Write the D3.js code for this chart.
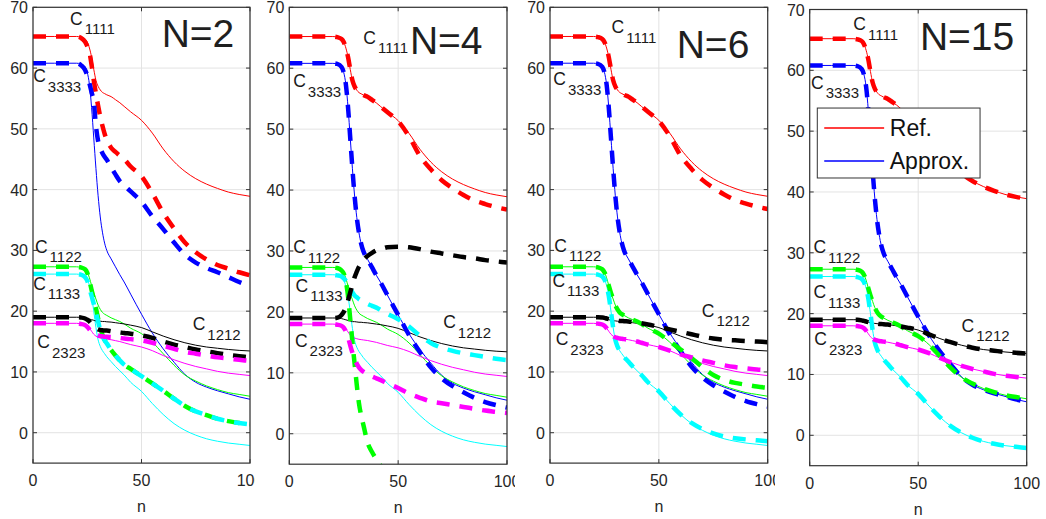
<!DOCTYPE html>
<html><head><meta charset="utf-8">
<script src="https://cdn.jsdelivr.net/npm/d3@7"></script>
<style>
body{margin:0;background:#fff}
svg{display:block}
text{font-family:"Liberation Sans",Arial,sans-serif}
</style>
</head><body>
<svg id="chart" width="1046" height="519"></svg>
<script>
// ---------------- DATA ----------------
const nVals = [0,10,20,22,24,25,26,27,28,29,30,31,32,33,34,36,38,40,42,45,50,55,60,65,70,75,80,85,90,95,100];
const yTicks = [0,10,20,30,40,50,60,70];
const xTicks = [0,50,100];
const panelTitles = ["N=2","N=4","N=6","N=15"];
const components = ["1111","3333","1122","1133","1212","2323"];
const legendLabels = ["Ref.","Approx."];

// Reference (thin solid) curves, identical in every panel
const ref1111 = [65.2,65.2,65.2,65.1,64.8,64.3,63.3,61.8,59.8,58.0,57.0,56.4,56.0,55.8,55.6,55.3,54.8,54.3,53.7,52.8,51.4,49.3,46.7,44.6,43.0,41.8,40.9,40.2,39.6,39.2,38.9];
const ref3333 = [60.8,60.8,60.8,60.7,60.2,59.3,57.3,53.5,48.5,43.5,39.0,35.5,33.0,31.2,30.0,28.6,27.3,26.0,24.8,22.8,19.5,16.4,13.8,11.6,9.6,8.3,7.5,6.9,6.4,5.9,5.5];
const ref1122 = [27.3,27.3,27.3,27.2,26.9,26.4,25.5,24.2,23.0,22.0,21.0,20.3,19.8,19.5,19.3,18.9,18.6,18.3,17.9,17.2,16.3,14.9,13.0,11.1,9.5,8.5,7.7,7.1,6.6,6.3,6.0];
const ref1133 = [26.1,26.1,26.1,26.0,25.7,25.2,24.2,22.5,20.0,17.3,15.3,14.2,13.5,13.0,12.5,11.7,10.9,10.2,9.5,8.3,6.8,4.8,3.0,1.5,0.4,-0.4,-1.0,-1.4,-1.7,-1.9,-2.1];
const ref1212 = [19.0,19.0,19.0,19.0,18.9,18.8,18.7,18.6,18.5,18.4,18.4,18.35,18.3,18.3,18.25,18.2,18.1,18.0,17.9,17.7,17.3,16.6,15.9,15.3,14.8,14.4,14.1,13.9,13.7,13.55,13.45];
const ref2323 = [18.0,18.0,18.0,17.95,17.8,17.6,17.2,16.7,16.2,15.9,15.7,15.6,15.5,15.45,15.4,15.3,15.15,15.0,14.8,14.5,14.1,13.5,12.7,12.0,11.4,10.9,10.5,10.1,9.8,9.6,9.4];

// Approximations (thick dashed), N = 2
const n2_1111 = [65.2,65.2,65.2,65.0,64.3,63.6,62.6,60.5,58.0,55.8,53.8,52.0,50.5,49.2,48.2,46.9,46.2,45.6,45.0,43.8,42.2,39.4,36.2,33.6,31.3,29.7,28.5,27.6,27.0,26.4,25.9];
const n2_3333 = [60.8,60.8,60.8,60.5,59.7,58.8,57.5,56.0,54.5,50.5,48.0,46.8,46.0,45.4,44.9,43.7,42.5,41.4,40.7,39.7,38.0,35.6,33.5,31.3,29.3,28.0,27.1,26.4,25.6,24.8,24.1];
const n2_1122 = [27.3,27.3,27.3,27.2,26.9,26.3,25.0,23.5,22.0,20.5,18.8,17.3,16.1,15.3,14.7,13.6,12.7,11.9,11.2,10.5,9.3,8.1,6.9,5.6,4.4,3.5,2.9,2.3,1.9,1.6,1.4];
const n2_1133 = [26.1,26.1,26.1,26.0,25.6,25.0,23.8,22.5,21.2,19.8,18.3,16.9,15.9,15.2,14.7,13.6,12.7,11.9,11.2,10.5,9.3,8.1,6.9,5.6,4.4,3.5,2.9,2.3,1.9,1.6,1.4];
const n2_1212 = [19.0,19.0,19.0,18.95,18.8,18.6,18.3,17.9,17.5,17.2,17.0,16.9,16.85,16.8,16.8,16.7,16.6,16.5,16.4,16.3,16.0,15.6,15.0,14.5,14.1,13.7,13.4,13.1,12.8,12.6,12.4];
const n2_2323 = [18.0,18.0,18.0,17.9,17.7,17.4,17.0,16.6,16.3,16.1,16.0,15.9,15.85,15.8,15.8,15.75,15.7,15.6,15.5,15.4,15.2,14.8,14.3,13.8,13.3,13.0,12.7,12.4,12.2,12.0,11.8];

// N = 4
const n4_1111 = [65.2,65.2,65.2,65.1,64.8,64.3,63.3,61.8,59.8,58.0,57.0,56.4,56.0,55.8,55.6,55.3,54.8,54.3,53.7,52.8,51.3,48.8,45.6,43.4,41.6,40.3,39.2,38.3,37.7,37.2,36.8];
const n4_3333 = [60.8,60.8,60.8,60.7,60.2,59.3,57.3,53.5,48.5,43.5,39.0,35.5,33.0,31.2,30.0,28.6,27.3,26.0,24.8,22.8,19.5,16.2,13.4,10.9,9.1,7.8,6.8,5.9,5.2,4.7,4.3];
const n4_1122 = [27.3,27.3,27.3,27.2,26.8,26.3,25.0,22.5,18.8,15.0,11.5,8.0,5.0,3.0,1.5,-1.5,-3.0,-4.2,-5.3,null,null,null,null,null,null,null,null,null,null,null,null];
const n4_1133 = [26.1,26.1,26.1,26.0,25.8,25.5,25.1,24.7,24.0,23.2,22.7,22.4,22.1,21.9,21.7,21.3,21.0,20.7,20.3,19.7,18.8,17.6,16.1,14.9,14.1,13.6,13.2,12.9,12.6,12.3,12.1];
const n4_1212 = [19.0,19.0,19.0,19.05,19.5,20.0,20.8,21.9,23.2,24.5,25.7,26.6,27.4,28.0,28.5,29.2,29.7,30.1,30.3,30.6,30.7,30.6,30.3,29.9,29.6,29.3,29.0,28.8,28.5,28.3,28.1];
const n4_2323 = [18.0,18.0,18.0,17.9,17.7,17.4,16.8,15.8,14.5,13.3,12.3,11.5,10.9,10.5,10.2,9.8,9.4,9.1,8.8,8.3,7.5,6.6,5.9,5.3,5.0,4.7,4.4,4.1,3.8,3.6,3.4];

// N = 6
const n6_1111 = [65.2,65.2,65.2,65.1,64.8,64.3,63.3,61.8,59.8,58.0,57.0,56.4,56.0,55.8,55.6,55.3,54.8,54.3,53.7,52.8,51.3,48.8,45.6,43.4,41.6,40.3,39.2,38.3,37.7,37.2,36.8];
const n6_3333 = [60.8,60.8,60.8,60.7,60.2,59.3,57.3,53.5,48.5,43.5,39.0,35.5,33.0,31.2,30.0,28.6,27.3,26.0,24.8,22.8,19.5,16.2,13.4,10.9,9.1,7.8,6.8,5.9,5.2,4.7,4.3];
const n6_1122 = [27.3,27.3,27.3,27.2,26.9,26.4,25.5,24.2,23.0,22.0,21.0,20.3,19.8,19.5,19.3,18.9,18.6,18.3,17.9,17.2,16.3,15.0,13.7,12.3,10.8,9.5,8.7,8.2,7.9,7.6,7.4];
const n6_1133 = [26.1,26.1,26.1,26.0,25.7,25.2,24.2,22.5,20.0,17.3,15.3,14.2,13.5,13.0,12.5,11.7,10.9,10.2,9.5,8.3,6.8,4.8,3.0,1.6,0.6,-0.1,-0.6,-0.9,-1.1,-1.25,-1.4];
const n6_1212 = [19.0,19.0,19.0,19.0,18.95,18.9,18.8,18.7,18.6,18.55,18.5,18.45,18.4,18.4,18.35,18.3,18.2,18.1,18.0,17.8,17.4,17.0,16.6,16.2,15.8,15.5,15.3,15.2,15.1,15.0,14.9];
const n6_2323 = [18.0,18.0,18.0,17.95,17.8,17.6,17.2,16.7,16.2,15.9,15.7,15.6,15.5,15.45,15.4,15.3,15.15,15.0,14.8,14.5,14.1,13.5,12.9,12.4,11.9,11.5,11.1,10.8,10.6,10.4,10.3];

// N = 15 (matches reference)
const n15_1111 = [65.2,65.2,65.2,65.1,64.8,64.3,63.3,61.8,59.8,58.0,57.0,56.4,56.0,55.8,55.6,55.3,54.8,54.3,53.7,52.8,51.4,49.3,46.7,44.6,43.0,41.8,40.9,40.2,39.6,39.2,38.9];
const n15_3333 = [60.8,60.8,60.8,60.7,60.2,59.3,57.3,53.5,48.5,43.5,39.0,35.5,33.0,31.2,30.0,28.6,27.3,26.0,24.8,22.8,19.5,16.4,13.8,11.6,9.6,8.3,7.5,6.9,6.4,5.9,5.5];
const n15_1122 = [27.3,27.3,27.3,27.2,26.9,26.4,25.5,24.2,23.0,22.0,21.0,20.3,19.8,19.5,19.3,18.9,18.6,18.3,17.9,17.2,16.3,14.9,13.0,11.1,9.5,8.5,7.7,7.1,6.6,6.3,6.0];
const n15_1133 = [26.1,26.1,26.1,26.0,25.7,25.2,24.2,22.5,20.0,17.3,15.3,14.2,13.5,13.0,12.5,11.7,10.9,10.2,9.5,8.3,6.8,4.8,3.0,1.5,0.4,-0.4,-1.0,-1.4,-1.7,-1.9,-2.1];
const n15_1212 = [19.0,19.0,19.0,19.0,18.9,18.8,18.7,18.6,18.5,18.4,18.4,18.35,18.3,18.3,18.25,18.2,18.1,18.0,17.9,17.7,17.3,16.6,15.9,15.3,14.8,14.4,14.1,13.9,13.7,13.55,13.45];
const n15_2323 = [18.0,18.0,18.0,17.95,17.8,17.6,17.2,16.7,16.2,15.9,15.7,15.6,15.5,15.45,15.4,15.3,15.15,15.0,14.8,14.5,14.1,13.5,12.7,12.0,11.4,10.9,10.5,10.1,9.8,9.6,9.4];

const refSeries = [ref1111, ref3333, ref1122, ref1133, ref1212, ref2323];
const approxSeries = [
  [n2_1111, n2_3333, n2_1122, n2_1133, n2_1212, n2_2323],
  [n4_1111, n4_3333, n4_1122, n4_1133, n4_1212, n4_2323],
  [n6_1111, n6_3333, n6_1122, n6_1133, n6_1212, n6_2323],
  [n15_1111, n15_3333, n15_1122, n15_1133, n15_1212, n15_2323]
];

// ---------------- LAYOUT / STYLE ----------------
const colors = ["#ff0000","#0000ff","#00ff00","#00ffff","#000000","#ff00ff"];
const legendColors = ["#ff0000","#0000ff"];
const frames = [
  {clip:[0,255],    left:33,    right:250,   top:7.3, bottom:463.1},
  {clip:[255,515],  left:289.3, right:507,   top:7.3, bottom:464.2},
  {clip:[515,775],  left:550,   right:767.7, top:7.3, bottom:463.1},
  {clip:[775,1046], left:809.7, right:1026.7,top:9.5, bottom:465.7}
];
// label anchor positions in data units (n, value) for each panel
const labelPos = [
  [[17.1,67.1],[0.1,57.7],[0.9,29.6],[0.1,23.5],[73.6,16.9],[2.0,13.9]],
  [[34.0,64.0],[1.8,56.9],[1.8,29.6],[2.9,23.3],[70.7,17.3],[2.6,14.3]],
  [[28.3,65.7],[1.5,57.2],[2.0,29.8],[1.1,24.0],[69.7,19.1],[2.6,14.4]],
  [[20.1,66.6],[0.6,57.0],[1.7,29.9],[1.7,22.5],[70.0,17.0],[2.1,14.8]]
];
const titlePos = [[59.3,63.5],[55.4,62.4],[58.2,61.6],[50.8,63.3]];

const svg = d3.select("#chart");
const defs = svg.append("defs");
const axisColor = "#333333";
const textColor = "#262626";

frames.forEach((f, pi) => {
  const x = d3.scaleLinear().domain([0,100]).range([f.left, f.right]);
  const y = d3.scaleLinear().domain([-5,70]).range([f.bottom, f.top]);

  defs.append("clipPath").attr("id","pc"+pi).append("rect")
    .attr("x", f.clip[0]).attr("y", 0).attr("width", f.clip[1]-f.clip[0]).attr("height", 519);
  defs.append("clipPath").attr("id","ac"+pi).append("rect")
    .attr("x", f.left).attr("y", f.top).attr("width", f.right-f.left).attr("height", f.bottom-f.top);

  const g = svg.append("g").attr("clip-path","url(#pc"+pi+")");

  // grid
  const grid = g.append("g");
  grid.selectAll("line.gy").data(yTicks).join("line")
    .attr("x1", f.left).attr("x2", f.right)
    .attr("y1", d => y(d)).attr("y2", d => y(d))
    .attr("stroke","#e3e3e3").attr("stroke-width",1);
  grid.selectAll("line.gx").data(xTicks).join("line")
    .attr("x1", d => x(d)).attr("x2", d => x(d))
    .attr("y1", f.top).attr("y2", f.bottom)
    .attr("stroke","#e3e3e3").attr("stroke-width",1);

  // lines
  const plot = g.append("g").attr("clip-path","url(#ac"+pi+")");
  const line = d3.line()
    .defined(d => d[1] !== null)
    .x(d => x(d[0])).y(d => y(d[1]))
    .curve(d3.curveMonotoneX);

  refSeries.forEach((s, i) => {
    plot.append("path").datum(nVals.map((n,k)=>[n, s[k]]))
      .attr("d", line).attr("fill","none")
      .attr("stroke", colors[i]).attr("stroke-width", 1);
  });
  approxSeries[pi].forEach((s, i) => {
    plot.append("path").datum(nVals.map((n,k)=>[n, s[k]]))
      .attr("d", line).attr("fill","none")
      .attr("stroke", colors[i]).attr("stroke-width", 4.5)
      .attr("stroke-dasharray","13,10");
  });

  // box
  g.append("rect").attr("x", f.left).attr("y", f.top)
    .attr("width", f.right-f.left).attr("height", f.bottom-f.top)
    .attr("fill","none").attr("stroke", axisColor).attr("stroke-width",1.2);

  // ticks (inside)
  const tl = 4;
  const tk = g.append("g").attr("stroke", axisColor).attr("stroke-width",1);
  yTicks.forEach(t => {
    tk.append("line").attr("x1", f.left).attr("x2", f.left+tl).attr("y1", y(t)).attr("y2", y(t));
    tk.append("line").attr("x1", f.right).attr("x2", f.right-tl).attr("y1", y(t)).attr("y2", y(t));
  });
  xTicks.forEach(t => {
    tk.append("line").attr("x1", x(t)).attr("x2", x(t)).attr("y1", f.bottom).attr("y2", f.bottom-tl);
    tk.append("line").attr("x1", x(t)).attr("x2", x(t)).attr("y1", f.top).attr("y2", f.top+tl);
  });

  // tick labels
  g.selectAll("text.yt").data(yTicks).join("text")
    .attr("x", f.left-5).attr("y", d => y(d)+6)
    .attr("text-anchor","end").attr("font-size",16).attr("fill",textColor)
    .text(d => d);
  g.selectAll("text.xt").data(xTicks).join("text")
    .attr("x", d => x(d)).attr("y", f.bottom+23)
    .attr("text-anchor","middle").attr("font-size",16).attr("fill",textColor)
    .text(d => d);
  g.append("text").attr("x", x(50)).attr("y", f.bottom+49)
    .attr("text-anchor","middle").attr("font-size",16).attr("fill",textColor).text("n");

  // component labels
  components.forEach((c, i) => {
    const p = labelPos[pi][i];
    const t = g.append("text").attr("x", x(p[0])).attr("y", y(p[1]))
      .attr("fill","#1a1a1a").attr("font-size",17.5);
    t.append("tspan").text("C");
    t.append("tspan").attr("dx",2).attr("dy",9.5).attr("font-size",15).text(c);
  });

  // title
  g.append("text").attr("x", x(titlePos[pi][0])).attr("y", y(titlePos[pi][1]))
    .attr("font-size",39).attr("fill","#1f1f1f").text(panelTitles[pi]);

  // legend in last panel
  if (pi === 3) {
    const lg = svg.append("g");
    lg.append("rect").attr("x", x(3.5)).attr("y", y(53.8))
      .attr("width", x(78.5)-x(3.5)).attr("height", y(42.3)-y(53.8))
      .style("fill","#ffffff").style("stroke", axisColor).style("stroke-width",1);
    const rows = [50.6, 45.1];
    legendLabels.forEach((lab, i) => {
      const yy = Math.round(y(rows[i]));
      lg.append("rect")
        .attr("x", x(6.7)).attr("y", yy - 0.75)
        .attr("width", x(34.3) - x(6.7)).attr("height", 1.5)
        .style("fill", legendColors[i]);
      lg.append("text").attr("x", x(36.9)).attr("y", yy + 8)
        .attr("font-size",23).style("fill","#111").text(lab);
    });
  }
});
</script>
</body></html>
